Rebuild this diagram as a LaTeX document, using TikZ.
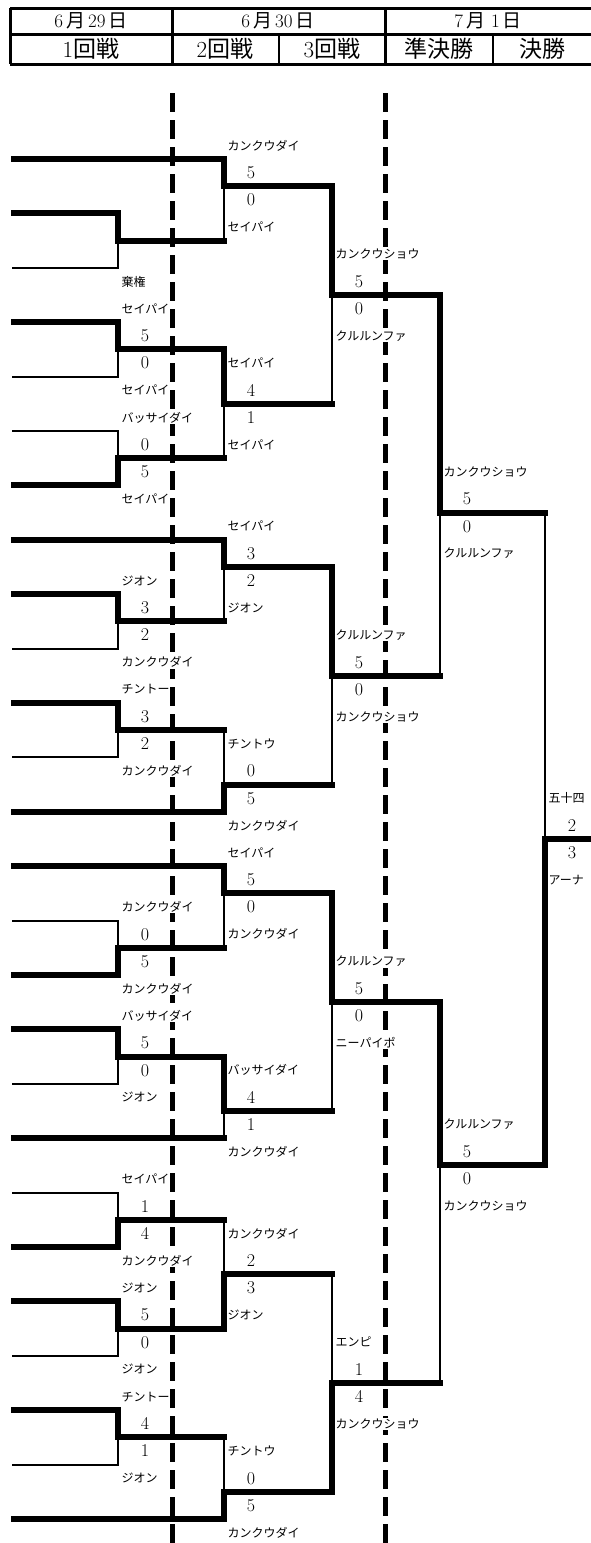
\documentclass[tikz,border=0pt]{standalone}
\usepackage{fontspec}
\newfontfamily\jpfont{Noto Sans CJK JP}
\newcommand\gap{\hspace{3pt}}

% one round of the bracket: #1 = x of the joining line, #2 = x where the winner's line ends
\newcommand\bracketround[3]{%
  \foreach \kt/\kb/\ko/\w/\nt/\st/\sb/\nb in {#3}{
    \ifnum\w=1
      \draw[win] (#1,\kt) -- (#1,\ko) -- (#2,\ko);
      \draw[lose] (#1,\ko) -- (#1,\kb);
    \else
      \draw[win] (#1,\kb) -- (#1,\ko) -- (#2,\ko);
      \draw[lose] (#1,\ko) -- (#1,\kt);
    \fi
    \node[team] (nt#1-\ko) at ({#1+3.5},\ko-1.5) {\nt};
    \node[score] (st#1-\ko) at ({#1+27},\ko-.5) {\st};
    \node[score] (sb#1-\ko) at ({#1+27},\ko+.5) {\sb};
    \node[team] (nb#1-\ko) at ({#1+3.5},\ko+1.5) {\nb};
  }}

\begin{document}
\begin{tikzpicture}[
    x=1pt, y=-1pt,
    win/.style={line width=6pt, line cap=rect},
    lose/.style={line width=2pt, line cap=rect},
    daysep/.style={line width=5pt, dash pattern=on 19pt off 8pt},
    frame/.style={line width=3pt},
    team/.style={anchor=west, fill=white, inner xsep=0pt, inner ysep=1pt,
                 font=\jpfont\fontsize{12}{12}\selectfont},
    score/.style={inner sep=0pt, font=\fontsize{18}{18}\selectfont},
    day/.style={inner sep=0pt, font=\fontsize{19}{19}\selectfont},
    cell/.style={inner sep=0pt, font=\fontsize{23}{23}\selectfont}
]
\useasboundingbox (0,0) rectangle (591,1543);

% header table
\draw[frame] (10,8) -- (591,8);
\draw[frame] (10,34) -- (591,34);
\draw[frame] (10,64) -- (591,64);
\draw[frame] (10,8) -- (10,64);
\draw[frame] (172,8) -- (172,64);
\draw[frame] (385,8) -- (385,64);
\draw[line width=2pt] (279,34) -- (279,64);
\draw[line width=2pt] (493,34) -- (493,64);
\node[day] (d1) at (91,21) {6\gap{\jpfont 月}\gap 29\gap{\jpfont 日}};
\node[day] (d2) at (278,21) {6\gap{\jpfont 月}\gap 30\gap{\jpfont 日}};
\node[day] (d3) at (488,21) {7\gap{\jpfont 月}\gap\gap 1\gap{\jpfont 日}};
\node[cell] (r1) at (91,49) {1{\jpfont 回戦}};
\node[cell] (r2) at (225,49) {2{\jpfont 回戦}};
\node[cell] (r3) at (332,49) {3{\jpfont 回戦}};
\node[cell] (sf) at (439,49) {\jpfont 準決勝};
\node[cell] (fi) at (542,49) {\jpfont 決勝};

% day separators
\coordinate (sepa) at (172,93);
\coordinate (sepb) at (385,93);
\draw[daysep] (sepa) -- (172,1543);
\draw[daysep] (sepb) -- (385,1543);

\begin{scope}[yshift=-159pt, y=-27.2pt]
% first round entries
\foreach \k in {2,6,12,16,20,30,32,40,42,46}
  \draw[win] (14,\k) -- (118,\k);
\foreach \k in {4,8,10,18,22,28,34,38,44,48}
  \draw[lose] (13,\k) -- (118,\k);
% seeded entries
\foreach \k in {0,14,24,26,36,50}
  \draw[win] (14,\k) -- (224,\k);

\bracketround{118}{224}{2/4/3/1/{}/{}/{}/棄権,
  6/8/7/1/セイパイ/5/0/セイパイ,
  10/12/11/0/バッサイダイ/0/5/セイパイ,
  16/18/17/1/ジオン/3/2/カンクウダイ,
  20/22/21/1/チントー/3/2/カンクウダイ,
  28/30/29/0/カンクウダイ/0/5/カンクウダイ,
  32/34/33/1/バッサイダイ/5/0/ジオン,
  38/40/39/0/セイパイ/1/4/カンクウダイ,
  42/44/43/1/ジオン/5/0/ジオン,
  46/48/47/1/チントー/4/1/ジオン}
\bracketround{224}{332}{0/3/1/1/カンクウダイ/5/0/セイパイ,
  7/11/9/1/セイパイ/4/1/セイパイ,
  14/17/15/1/セイパイ/3/2/ジオン,
  21/24/23/0/チントウ/0/5/カンクウダイ,
  26/29/27/1/セイパイ/5/0/カンクウダイ,
  33/36/35/1/バッサイダイ/4/1/カンクウダイ,
  39/43/41/0/カンクウダイ/2/3/ジオン,
  47/50/49/0/チントウ/0/5/カンクウダイ}
\bracketround{332}{440}{1/9/5/1/カンクウショウ/5/0/クルルンファ,
  15/23/19/1/クルルンファ/5/0/カンクウショウ,
  27/35/31/1/クルルンファ/5/0/ニーパイポ,
  41/49/45/0/エンピ/1/4/カンクウショウ}
\bracketround{440}{545}{5/19/13/1/カンクウショウ/5/0/クルルンファ,
  31/45/37/1/クルルンファ/5/0/カンクウショウ}
\bracketround{545}{600}{13/37/25/0/五十四/2/3/アーナ}
\end{scope}
\end{tikzpicture}
\end{document}
